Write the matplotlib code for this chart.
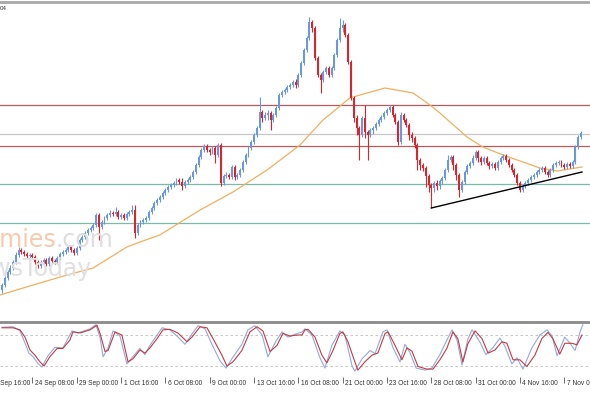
import matplotlib.pyplot as plt

# 4H candles, prices (arbitrary price units)
first_open = 30
closes = [35, 42, 48, 52, 58, 65, 70, 68, 66, 64, 65, 63, 58, 54, 58, 60, 56, 62, 59, 58,
          62, 66, 68, 70, 73, 70, 67, 72, 80, 83, 87, 90, 92, 95, 105, 93, 98, 102, 105, 107,
          106, 108, 103, 105, 102, 106, 108, 110, 87, 95, 98, 100, 102, 108, 112, 117, 120, 123, 127, 130,
          133, 135, 137, 140, 138, 134, 138, 140, 143, 148, 155, 163, 170, 174, 170, 168, 172, 165, 175, 137,
          144, 145, 143, 153, 143, 145, 150, 158, 165, 172, 178, 185, 192, 208, 202, 205, 207, 200, 205, 212,
          225, 228, 230, 233, 235, 238, 235, 245, 257, 270, 282, 298, 292, 262, 245, 240, 248, 252, 245, 252,
          265, 280, 292, 295, 285, 258, 222, 202, 192, 185, 202, 188, 185, 190, 192, 196, 200, 203, 207, 210,
          213, 205, 198, 178, 205, 200, 195, 185, 182, 175, 160, 155, 152, 144, 135, 132, 137, 134, 139, 142,
          150, 160, 163, 155, 145, 130, 138, 148, 154, 157, 162, 168, 162, 158, 162, 157, 154, 156, 152, 158,
          162, 164, 160, 155, 150, 145, 137, 130, 134, 137, 140, 143, 145, 148, 150, 152, 148, 145, 150, 155,
          157, 158, 155, 153, 156, 154, 158, 173, 183, 187]
highs = [37, 44, 50, 55, 60, 68, 73, 72, 70, 68, 67, 67, 65, 60, 60, 62, 62, 64, 64, 61,
         64, 68, 70, 72, 75, 75, 72, 74, 82, 85, 89, 92, 94, 97, 107, 107, 100, 104, 107, 110,
         109, 113, 110, 107, 107, 108, 110, 115, 115, 97, 100, 102, 104, 110, 114, 119, 122, 125, 129, 132,
         135, 137, 139, 142, 142, 142, 140, 142, 145, 150, 157, 165, 172, 176, 176, 172, 174, 174, 177, 177,
         146, 148, 147, 155, 155, 147, 152, 160, 167, 174, 180, 187, 194, 223, 210, 208, 210, 209, 207, 214,
         227, 230, 232, 235, 237, 240, 241, 247, 259, 272, 284, 303, 300, 294, 264, 247, 250, 254, 254, 254,
         267, 282, 302, 300, 297, 287, 260, 224, 205, 194, 204, 215, 190, 192, 194, 198, 202, 205, 209, 212,
         215, 215, 207, 200, 208, 207, 202, 197, 188, 184, 177, 162, 157, 154, 146, 137, 139, 140, 141, 144,
         152, 165, 165, 165, 157, 147, 140, 150, 156, 159, 165, 170, 170, 164, 164, 164, 159, 158, 158, 160,
         164, 166, 166, 162, 157, 152, 147, 139, 136, 139, 142, 145, 147, 150, 152, 154, 154, 150, 152, 157,
         159, 160, 160, 157, 158, 158, 160, 175, 185, 189]
lows = [27, 33, 40, 46, 50, 56, 63, 66, 64, 62, 62, 61, 56, 52, 52, 56, 54, 54, 57, 56,
        56, 60, 64, 66, 68, 68, 65, 65, 70, 78, 81, 85, 88, 90, 93, 80, 91, 96, 100, 103,
        104, 104, 101, 101, 100, 100, 104, 106, 82, 85, 93, 96, 98, 100, 106, 110, 115, 118, 121, 125,
        128, 131, 133, 135, 136, 130, 132, 136, 138, 141, 146, 153, 161, 168, 168, 165, 166, 157, 163, 134,
        135, 142, 141, 141, 140, 141, 143, 148, 156, 163, 170, 176, 183, 190, 198, 200, 200, 190, 198, 203,
        210, 223, 226, 228, 231, 233, 232, 233, 243, 255, 268, 280, 288, 260, 243, 227, 238, 246, 243, 243,
        250, 263, 278, 288, 283, 256, 220, 198, 185, 160, 183, 182, 160, 183, 186, 190, 194, 198, 201, 205,
        208, 203, 196, 175, 176, 198, 193, 180, 178, 172, 150, 150, 149, 133, 128, 112, 128, 130, 131, 136,
        140, 148, 158, 150, 140, 123, 128, 136, 146, 152, 155, 160, 158, 155, 156, 155, 151, 152, 150, 150,
        156, 160, 158, 153, 148, 143, 135, 128, 128, 132, 135, 138, 141, 143, 146, 148, 146, 143, 143, 148,
        153, 155, 153, 151, 151, 152, 152, 156, 171, 181]
opens = [first_open] + closes[:-1]

# moving average (orange) read at a few bars
ma_bars = [-0.7, 11.2, 23.5, 32.9, 45.1, 49.8, 57, 71.5, 83.4, 95.7, 107.6, 115.9, 125.6,
           131.8, 138.3, 148.4, 154.5, 158.1, 167.9, 173.6, 180.9, 188.1, 194.2, 200.4, 209.4]
ma_vals = [25, 35, 45, 52, 73, 78, 85, 110, 128, 150, 175, 200, 222,
           227, 232, 227, 215, 207, 183, 173, 165, 158, 152, 149, 153]

# horizontal levels and trend line
red_levels = [215.5, 174.5]
gray_levels = [186]
teal_levels = [135.7, 97.3]
trend_bars = [155, 209.4]
trend_vals = [112, 148]

# stochastic: %K (blue) and %D (red)
k_bars = [0, 4, 6.5, 7.9, 9.7, 11.2, 13, 14.4, 16.6, 19.1, 22, 24.5, 25.3, 27.4, 31.8, 33.9, 35.4,
          36.5, 38.3, 40.1, 42.6, 45.1, 46.9, 49.8, 51.6, 53.4, 56, 57.8, 60.6, 63.2, 66.1, 68.6,
          70.8, 73.3, 75.8, 78.7, 80.9, 83, 86.6, 88.8, 91.3, 93.9, 96, 98.9, 101.1, 103.2, 106.1,
          108.3, 109.4, 111.9, 114.8, 116.6, 119.1, 122, 123.8, 126.4, 127.4, 130, 132.9, 134.7,
          137.5, 139, 141.2, 143.7, 145.5, 147.3, 149.5, 152.7, 155.2, 158.1, 160.6, 162.5, 164.3,
          166.1, 168.2, 169.7, 172.6, 174.7, 177.3, 179.8, 181.6, 184.1, 185.9, 188.1, 191.3, 194.2,
          196.8, 198.6, 200.4, 203.2, 205.1, 206.9, 208.7, 209.7]
k_vals = [95, 96, 88, 70, 45, 38, 25, 18, 40, 56, 55, 80, 88, 84, 92, 100, 75,
          38, 55, 88, 78, 24, 36, 54, 42, 60, 80, 94, 90, 78, 62, 82,
          98, 92, 62, 30, 16, 34, 62, 90, 98, 80, 38, 68, 86, 76, 82,
          86, 92, 80, 36, 16, 60, 88, 80, 20, 10, 34, 50, 44,
          86, 90, 55, 28, 62, 46, 16, 12, 16, 42, 70, 90, 70,
          22, 72, 90, 66, 42, 56, 74, 58, 24, 36, 14, 55, 80,
          90, 78, 40, 76, 64, 50, 86, 100]
d_bars = [0, 4, 6.5, 8.3, 10.1, 11.9, 13.7, 15.2, 17.3, 19.9, 22, 24.5, 25.6, 28.2, 31.8, 34.3,
          35.4, 37.2, 38.3, 40.8, 43.3, 45.5, 47.3, 49.8, 51.6, 53.4, 56, 58.1, 60.6, 63.5, 66.8,
          68.6, 71.5, 74, 76.2, 79.4, 81.2, 83.4, 86.6, 89.5, 92.1, 94.2, 96.8, 99.3, 101.4, 104,
          106.5, 108.3, 109.4, 110.5, 113, 115.5, 117.3, 119.5, 122, 123.1, 124.9, 127.4, 128.5,
          131, 133.6, 135.7, 138.3, 139.4, 141.9, 144.4, 146.2, 148, 150.2, 153.4, 155.6, 158.1,
          160.6, 162.8, 164.6, 166.4, 168.2, 170.8, 173.3, 175.5, 178, 180.5, 182.3, 184.5, 187,
          189.5, 192.4, 194.9, 197.1, 198.9, 201.4, 203.2, 205.8, 207.6, 209.4]
d_vals = [94, 94, 90, 76, 51, 41, 28, 20, 38, 54, 54, 70, 86, 84, 90, 99,
          83, 48, 50, 86, 80, 28, 34, 51, 45, 55, 73, 90, 91, 84, 67,
          76, 96, 94, 73, 41, 20, 28, 50, 86, 96, 88, 48, 60, 83, 78,
          80, 80, 90, 91, 76, 41, 26, 50, 83, 86, 67, 28, 12,
          28, 41, 45, 83, 86, 60, 32, 55, 49, 19, 14, 14, 32,
          54, 86, 73, 28, 63, 88, 73, 45, 51, 67, 64, 32, 32,
          19, 41, 73, 85, 73, 43, 64, 64, 61, 80]

tick_bars = [-5, 11, 27, 43, 59, 75, 91, 107, 123, 139, 155, 171, 187, 203]
tick_labels = ["19 Sep 16:00", "24 Sep 08:00", "29 Sep 00:00", "1 Oct 16:00", "6 Oct 08:00",
               "9 Oct 00:00", "13 Oct 16:00", "16 Oct 08:00", "21 Oct 00:00", "23 Oct 16:00",
               "28 Oct 08:00", "31 Oct 00:00", "4 Nov 16:00", "7 Nov 08:00"]

bull = "#6a98de"
bear = "#e0232b"
label_font = ["Liberation Sans Narrow", "Liberation Sans", "DejaVu Sans"]

fig = plt.figure(figsize=(5.9, 3.93), dpi=100)
ax = fig.add_axes([0, 1 - 320 / 393, 1, 318 / 393])
ax2 = fig.add_axes([0, 1 - 377 / 393, 1, 55 / 393])

# watermark, cut at the left edge like the source
fig.text(56 / 590, 1 - 247 / 393, "economies", color="#f6cbad", fontsize=17,
         ha="right", va="baseline", zorder=0)
fig.text(56 / 590, 1 - 247 / 393, ".com", color="#dedede", fontsize=17,
         ha="left", va="baseline", zorder=0)
fig.text(92 / 590, 1 - 276 / 393, "NewsToday", color="#e0e0e0", fontsize=17,
         ha="right", va="baseline", zorder=0)
fig.text(0.0, 1 - 10 / 393, "04", color="#333333", fontsize=4.5, ha="left",
         va="baseline", family=label_font)
ax.patch.set_alpha(0)

for lv in red_levels:
    ax.axhline(lv, color="#bf5a5a", lw=0.9, zorder=1)
for lv in gray_levels:
    ax.axhline(lv, color="#c8c8c8", lw=0.9, zorder=1)
for lv in teal_levels:
    ax.axhline(lv, color="#78bba8", lw=0.9, zorder=1)

ax.plot(ma_bars, ma_vals, color="#f0b060", lw=0.9, zorder=2)

for i in range(len(closes)):
    o, c = opens[i], closes[i]
    col = bull if c >= o else bear
    ax.vlines(i, lows[i], highs[i], color=col, lw=0.8, zorder=3)
    body = max(abs(c - o), 0.8)
    ax.bar(i, body, bottom=min(o, c), width=0.7, color=col, lw=0, zorder=4)

ax.plot(trend_bars, trend_vals, color="black", lw=1, zorder=5)

ax.set_xlim(-0.72, 212.3)
ax.set_ylim(0, 318)
ax.set_xticks([])
ax.set_yticks([])
for s in ["left", "right", "bottom"]:
    ax.spines[s].set_visible(False)
ax.spines["top"].set_color("#a8a8a8")
ax.spines["top"].set_linewidth(2)

# stochastic panel
ax2.axhline(80, color="#bdbdbd", lw=0.6, ls=(0, (3, 3)))
ax2.axhline(20, color="#bdbdbd", lw=0.6, ls=(0, (3, 3)))
ax2.plot(k_bars, k_vals, color="#93aad6", lw=0.8)
ax2.plot(d_bars, d_vals, color="#c23a44", lw=0.8)
ax2.set_xlim(-0.72, 212.3)
ax2.set_ylim(-1.3, 105.2)
ax2.set_yticks([])
ax2.set_xticks([b for b in tick_bars if b >= 0])
ax2.set_xticklabels([])
ax2.tick_params(axis="x", length=4, width=0.6, color="#555555", direction="out")
for s in ["left", "right", "bottom"]:
    ax2.spines[s].set_visible(False)
ax2.spines["top"].set_color("#8a8a8a")
ax2.spines["top"].set_linewidth(2)

for b, lab in zip(tick_bars, tick_labels):
    ax2.text(b + 0.9, -0.11, lab, transform=ax2.get_xaxis_transform(), fontsize=4.8,
             color="#333333", ha="left", va="center", clip_on=False, family=label_font)

fig.savefig("out.png", dpi=100)
